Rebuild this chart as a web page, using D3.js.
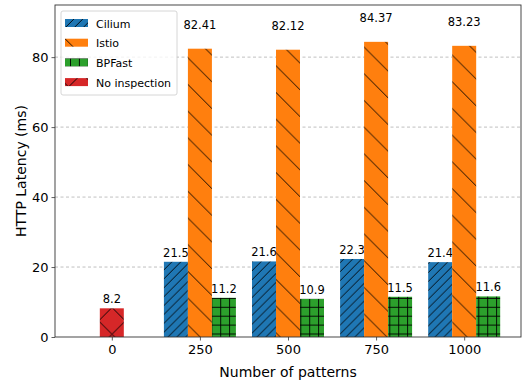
<!DOCTYPE html>
<html>
<head>
<meta charset="utf-8">
<script src="https://cdn.jsdelivr.net/npm/d3@7"></script>
<style>
body { margin: 0; background: #fff; }
text { font-family: "DejaVu Sans", sans-serif; }
</style>
</head>
<body>
<script>
// data
var categories = ["0", "250", "500", "750", "1000"];
var series = ["Cilium", "Istio", "BPFast", "No inspection"];
var cilium = [null, 21.5, 21.6, 22.3, 21.4];
var istio = [null, 82.41, 82.12, 84.37, 83.23];
var bpfast = [null, 11.2, 10.9, 11.5, 11.6];
var noInspection = [8.2, null, null, null, null];
var yTicks = [0, 20, 40, 60, 80];

var width = 525, height = 384;
var margin = {top: 5, right: 4, bottom: 47, left: 55};
var innerW = width - margin.left - margin.right,
    innerH = height - margin.top - margin.bottom;

var colors = {"Cilium": "#1f77b4", "Istio": "#ff7f0e", "BPFast": "#2ca02c", "No inspection": "#d62728"};
// offset of each bar inside its group, in bar widths
var offsets = {"Cilium": -1, "Istio": 0, "BPFast": 1, "No inspection": 0};
function pid(s){ return "h-" + s.replace(/ /g, ""); }

var svg = d3.select("body").append("svg")
    .attr("width", width)
    .attr("height", height);

// hatch patterns (big unit ~26.7px, like matplotlib's hatch unit here)
var defs = svg.append("defs");
function makePattern(name, color, size, ox, oy, paths) {
    var p = defs.append("pattern")
        .attr("id", name)
        .attr("patternUnits", "userSpaceOnUse")
        .attr("x", ox).attr("y", oy)
        .attr("width", size).attr("height", size);
    p.append("rect").attr("width", size).attr("height", size).attr("fill", color);
    paths.forEach(function(d){
        p.append("path").attr("d", d)
            .attr("stroke", "#000").attr("stroke-width", 0.9).attr("fill", "none");
    });
}
var U = 26.7, u = U / 3;
makePattern(pid("Cilium"), colors["Cilium"], u, 0, 0,
    ["M0," + u + " L" + u + ",0", "M" + (-u / 2) + "," + (u / 2) + " L" + (u / 2) + "," + (-u / 2),
     "M" + (u / 2) + "," + (1.5 * u) + " L" + (1.5 * u) + "," + (u / 2)]);
makePattern(pid("Istio"), colors["Istio"], U, 0, 0,
    ["M0,0 L" + U + "," + U, "M" + (-U / 2) + "," + (U / 2) + " L0," + U, "M" + U + ",0 L" + (1.5 * U) + "," + (U / 2)]);
makePattern(pid("BPFast"), colors["BPFast"], u, 1.05, -4.75,
    ["M0," + (u / 2) + " L" + u + "," + (u / 2), "M" + (u / 2) + ",0 L" + (u / 2) + "," + u]);
makePattern(pid("No inspection"), colors["No inspection"], U, 43.65, 289.15,
    ["M0,0 L" + U + "," + U, "M0," + U + " L" + U + ",0"]);

var g = svg.append("g").attr("transform", "translate(" + margin.left + "," + margin.top + ")");

var x = d3.scaleLinear()
    .domain([-0.645, categories.length - 1 + 0.645])
    .range([0, innerW]);
var y = d3.scaleLinear()
    .domain([0, 94.9])
    .range([innerH, 0]);
var barW = 24;

// grid
g.selectAll(".grid")
    .data(yTicks.filter(function(t){ return t > 0; }))
    .enter().append("line")
    .attr("x1", 0).attr("x2", innerW)
    .attr("y1", function(d){ return y(d); })
    .attr("y2", function(d){ return y(d); })
    .attr("stroke", "#b0b0b0").attr("stroke-width", 0.8)
    .attr("stroke-dasharray", "3,2.5");

var valuesBySeries = {"Cilium": cilium, "Istio": istio, "BPFast": bpfast, "No inspection": noInspection};

series.forEach(function(s){
    var vals = valuesBySeries[s];
    var data = vals.map(function(v, i){ return {i: i, v: v}; })
        .filter(function(d){ return d.v != null; });
    var cx = function(d){ return x(d.i) + offsets[s] * barW; };

    g.selectAll(".bar-" + pid(s))
        .data(data)
        .enter().append("rect")
        .attr("x", function(d){ return cx(d) - barW / 2; })
        .attr("width", barW)
        .attr("y", function(d){ return y(d.v); })
        .attr("height", function(d){ return innerH - y(d.v); })
        .attr("fill", "url(#" + pid(s) + ")");

    var lift = s == "Istio" ? 20 : 5;
    g.selectAll(".lbl-" + pid(s))
        .data(data)
        .enter().append("text")
        .attr("x", cx)
        .attr("y", function(d){ return y(d.v) - lift; })
        .attr("text-anchor", "middle")
        .attr("font-size", 11.5)
        .attr("fill", "#000")
        .text(function(d){ return d.v; });
});

// axes
var xAxis = g.append("g")
    .attr("transform", "translate(0," + innerH + ")")
    .call(d3.axisBottom(x).tickValues(d3.range(categories.length))
        .tickFormat(function(d){ return categories[d]; }).tickSize(3.5).tickPadding(4));
var yAxis = g.append("g")
    .call(d3.axisLeft(y).tickValues(yTicks).tickSize(3.5).tickPadding(3));
[xAxis, yAxis].forEach(function(a){
    a.select(".domain").remove();
    a.selectAll("text").attr("font-size", 13).attr("fill", "#000")
        .style("font-family", "DejaVu Sans, sans-serif");
    a.selectAll("line").attr("stroke", "#333").attr("stroke-width", 0.8);
});

// frame
g.append("rect")
    .attr("width", innerW).attr("height", innerH)
    .attr("fill", "none").attr("stroke", "#333").attr("stroke-width", 0.9);

// axis labels
svg.append("text")
    .attr("x", margin.left + innerW / 2)
    .attr("y", height - 7)
    .attr("text-anchor", "middle")
    .attr("font-size", 14)
    .text("Number of patterns");
svg.append("text")
    .attr("transform", "translate(26," + (margin.top + innerH / 2) + ") rotate(-90)")
    .attr("text-anchor", "middle")
    .attr("font-size", 14)
    .text("HTTP Latency (ms)");

// legend
var legend = svg.append("g").attr("transform", "translate(61,11)");
legend.append("rect")
    .attr("width", 116).attr("height", 84).attr("rx", 2)
    .attr("fill", "#fff").attr("fill-opacity", 0.8)
    .attr("stroke", "#ccc").attr("stroke-width", 0.8);
var items = legend.selectAll(".item")
    .data(series)
    .enter().append("g")
    .attr("transform", function(d, i){ return "translate(4," + (8 + i * 19.7) + ")"; });
items.append("rect")
    .attr("width", 23).attr("height", 8)
    .attr("fill", function(d){ return "url(#" + pid(d) + ")"; });
items.append("text")
    .attr("x", 31).attr("y", 8.5)
    .attr("font-size", 11)
    .text(function(d){ return d; });
</script>
</body>
</html>
